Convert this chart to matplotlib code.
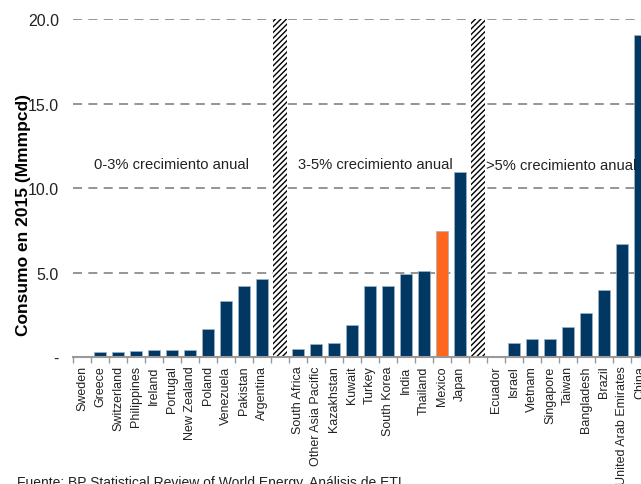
import numpy as np
import matplotlib
matplotlib.use('Agg')
import matplotlib.pyplot as plt
from matplotlib.ticker import FuncFormatter

plt.rcParams['font.family'] = ['Liberation Sans', 'DejaVu Sans']
plt.rcParams['hatch.linewidth'] = 1.0

# DATA (Mmmpcd, consumo 2015)
grupo1 = ['Sweden', 'Greece', 'Switzerland', 'Philippines', 'Ireland', 'Portugal',
          'New Zealand', 'Poland', 'Venezuela', 'Pakistan', 'Argentina']
valores1 = [0.08, 0.28, 0.31, 0.33, 0.42, 0.44, 0.44, 1.64, 3.34, 4.20, 4.59]

grupo2 = ['South Africa', 'Other Asia Pacific', 'Kazakhstan', 'Kuwait', 'Turkey',
          'South Korea', 'India', 'Thailand', 'Mexico', 'Japan']
valores2 = [0.49, 0.74, 0.82, 1.87, 4.19, 4.19, 4.90, 5.10, 7.47, 10.92]

grupo3 = ['Ecuador', 'Israel', 'Vietnam', 'Singapore', 'Taiwan', 'Bangladesh',
          'Brazil', 'United Arab Emirates', 'China']
valores3 = [0.06, 0.81, 1.04, 1.08, 1.77, 2.60, 3.94, 6.67, 19.05]

etiquetas_grupo = ['0-3% crecimiento anual', '3-5% crecimiento anual', '>5% crecimiento anual']
resaltado = 'Mexico'
y_max = 20.0

NAVY = '#003763'
ORANGE = '#FF671F'

# layout: groups separated by one hatched slot
nombres = grupo1 + [''] + grupo2 + [''] + grupo3
valores = valores1 + [None] + valores2 + [None] + valores3
x = np.arange(len(nombres))
sep = [i for i, v in enumerate(valores) if v is None]

fig = plt.figure(figsize=(6.41, 4.85), dpi=100)
ax = fig.add_axes([73/641, 127/485, 576/641, 338/485])

for i, (n, v) in enumerate(zip(nombres, valores)):
    if v is None:
        continue
    c = ORANGE if n == resaltado else NAVY
    ax.bar(i, v, width=0.66, color=c, edgecolor='#9fb3c8', linewidth=0.5, zorder=3)

for i in sep:
    ax.bar(i, y_max, width=0.74, color='white', edgecolor='black', hatch='//////',
           linewidth=0, zorder=2)

ax.set_xlim(-0.5, len(nombres) - 0.5)
ax.set_ylim(0, y_max)
ax.set_yticks([0, 5, 10, 15, 20])
ax.yaxis.set_major_formatter(FuncFormatter(lambda v, p: '-' if v == 0 else f'{v:.1f}'))
ax.tick_params(axis='y', length=0, pad=10, labelsize=11.5, labelcolor='#222222')
ax.yaxis.grid(True, linestyle=(0, (5, 3.5)), color='#8c8c8c', linewidth=1.3, zorder=1)
ax.set_axisbelow(True)

ax.set_xticks(x)
ax.set_xticklabels(nombres, rotation=90, fontsize=9, color='#222222')
ax.tick_params(axis='x', which='major', length=0, pad=6)
ax.set_xticks(np.arange(-0.5, len(nombres)), minor=True)
ax.tick_params(axis='x', which='minor', length=4, width=1, color='#999999')

for s in ['top', 'right', 'left']:
    ax.spines[s].set_visible(False)
ax.spines['bottom'].set_color('#999999')
ax.spines['bottom'].set_linewidth(1.5)
ax.spines['bottom'].set_zorder(4)

ax.text(5, 11.4, etiquetas_grupo[0], ha='center', va='center', fontsize=10.6, color='#222222')
ax.text(16.3, 11.4, etiquetas_grupo[1], ha='center', va='center', fontsize=10.6, color='#222222')
ax.text(22.44, 11.35, etiquetas_grupo[2], ha='left', va='center', fontsize=10.6, color='#222222')

fig.text(24/641, 1 - 215/485, 'Consumo en 2015 (Mmmpcd)', rotation=90, ha='center', va='center',
         fontsize=12.5, fontweight='bold', color='black')
fig.text(17/641, 1 - 476/485, 'Fuente: BP Statistical Review of World Energy, Análisis de ETI',
         ha='left', va='top', fontsize=10, color='#222222')

fig.savefig('out.png', dpi=100)
